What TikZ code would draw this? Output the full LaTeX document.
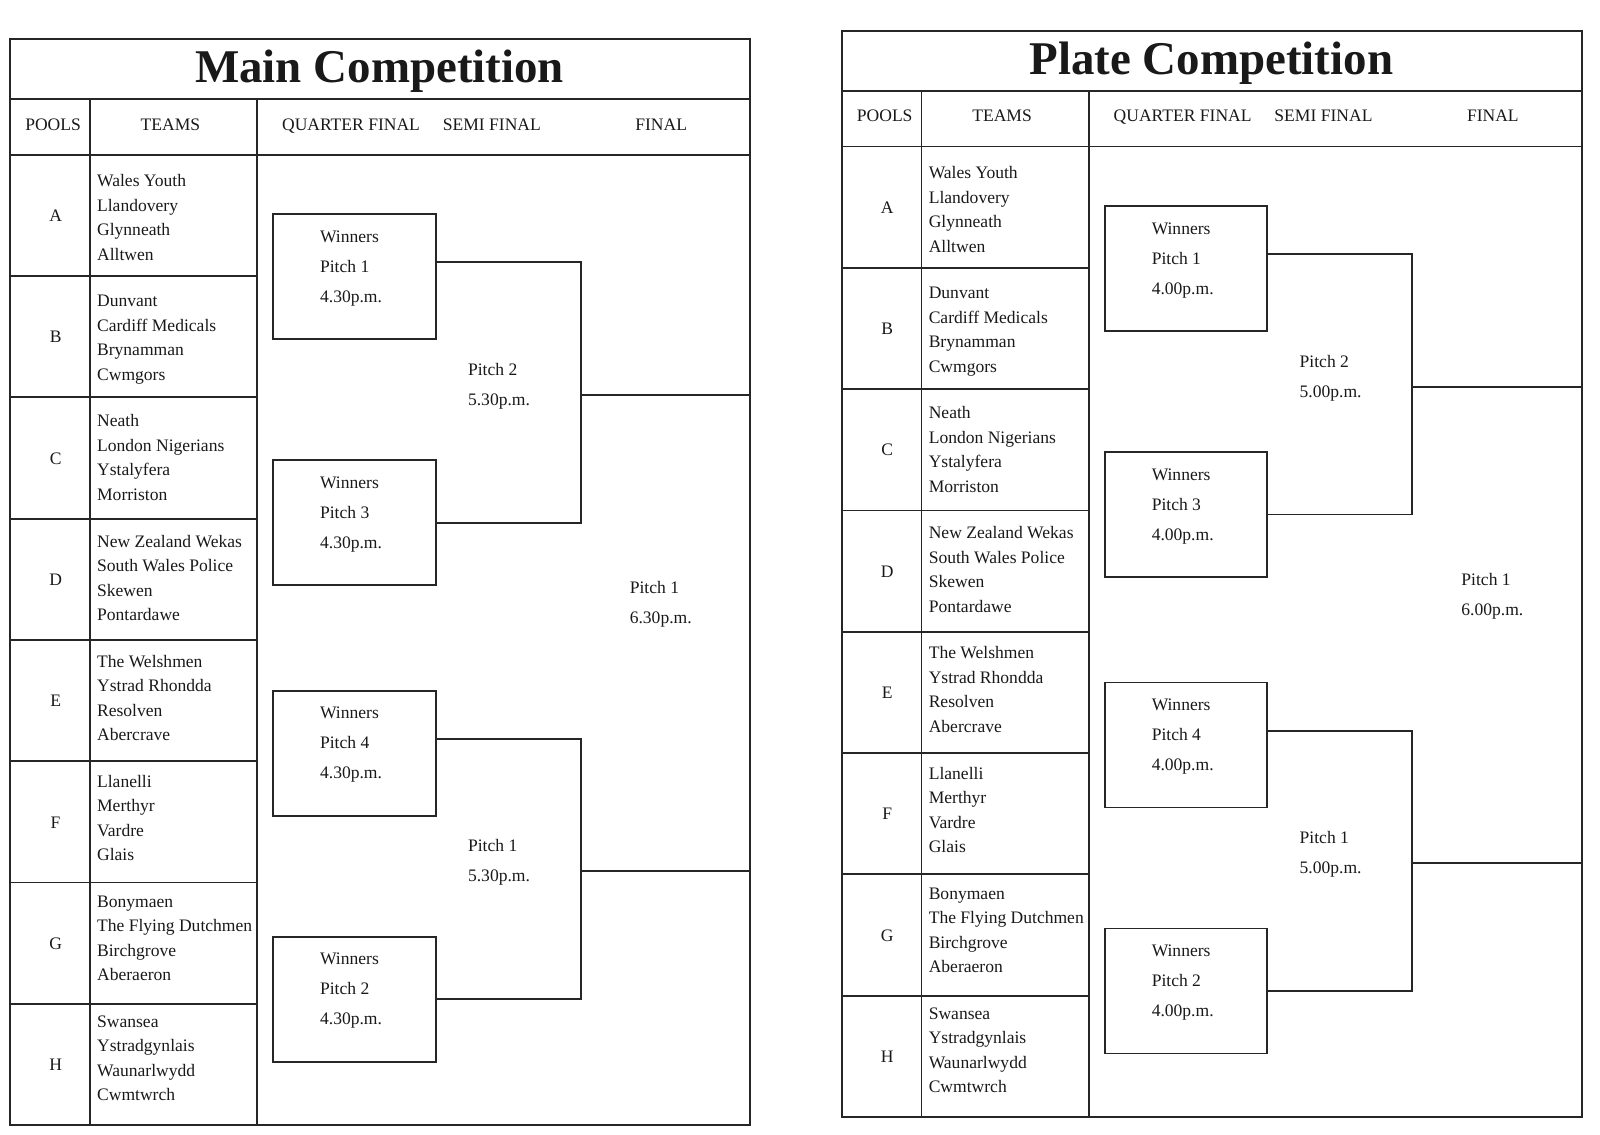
\documentclass[tikz,border=0pt]{standalone}
\usepackage{fontspec}
\setmainfont{Liberation Serif}
\usetikzlibrary{positioning}
\begin{document}
\begin{tikzpicture}[x=1pt,y=-1pt]
\def\rw{118.9}
\tikzset{l/.style={line width=1.8pt,draw=black!85},
b/.style={l,rectangle,minimum width=159pt,minimum height=122.5pt,inner sep=0pt},
t/.style={inner sep=0pt,align=left,text=black!90,font=\fontsize{17.2}{24}\selectfont},
w/.style={t,font=\fontsize{17.2}{29.4}\selectfont}}
\useasboundingbox(0,0)rectangle(1568,1112);
\foreach \cmp/\dx/\dy/\nm/\qt/\st/\ft in {M/0/0/Main/4.30/5.30/6.30,P/815/-8/Plate/4.00/5.00/6.00}{
\begin{scope}[shift={(\dx,\dy)}]
%%Table
\draw[l](10,38.5)rectangle(735,1102.5);
\draw[l](10,97)--(735,97)(10,151.5)--(735,151.5)(88,97)--(88,1102.5)(252,97)--(252,1102.5);
\foreach \k in {1,...,7}\draw[l](10,151.5+\k*\rw)--(252,151.5+\k*\rw);
\coordinate(\cmp R)at(735,0);
\node[anchor=base,inner sep=0pt,text=black!90,font=\fontsize{46}{50}\selectfont\bfseries](\cmp T)at(372,81){\nm\ Competition};
\foreach \x/\h [count=\j] in {52/POOLS,167/TEAMS,344/QUARTER FINAL,482/SEMI FINAL,648/FINAL}
\node[t,anchor=base](\cmp h\j)at(\x,127.5){\h};
%%Pools (base = last line)
\foreach \p/\tm [count=\k from 0] in {
A/{Wales Youth\\Llandovery\\Glynneath\\Alltwen},
B/{Dunvant\\Cardiff Medicals\\Brynamman\\Cwmgors},
C/{Neath\\London Nigerians\\Ystalyfera\\Morriston},
D/{New Zealand Wekas\\South Wales Police\\Skewen\\Pontardawe},
E/{The Welshmen\\Ystrad Rhondda\\Resolven\\Abercrave},
F/{Llanelli\\Merthyr\\Vardre\\Glais},
G/{Bonymaen\\The Flying Dutchmen\\Birchgrove\\Aberaeron},
H/{Swansea\\Ystradgynlais\\Waunarlwydd\\Cwmtwrch}}{
\node[t,anchor=base](\cmp p\p)at(54.5,151.5+\k*\rw+65.5){\p};
\node[t,anchor=base west](\cmp t\p)at(95,255+\k*117.7){\tm};}
%%Quarter finals
\foreach \i/\y/\n in {1/209/1,2/450/3,3/676/4,4/917/2}{
\node[b,anchor=north west](\cmp q\i)at(267,\y){};
\path(\cmp q\i.north west)++(46.5,87.3)node[w,anchor=base west](\cmp w\i){Winners\\Pitch \n\\\qt p.m.};}
%%Semi finals
\coordinate(\cmp s1)at(569,387);
\coordinate(\cmp s2)at(569,853.6);
\draw[l]([yshift=14pt]\cmp q1.east)-|(\cmp s1)|-(\cmp q2.east);
\draw[l]([yshift=14pt]\cmp q3.east)-|(\cmp s2)|-(\cmp q4.east);
\draw[l](\cmp s1)--(\cmp s1-|\cmp R)(\cmp s2)--(\cmp s2-|\cmp R);
\path(\cmp s1)++(-110.5,10.6)node[w,anchor=base west](\cmp m1){Pitch 2\\\st p.m.};
\path(\cmp s2)++(-110.5,10.6)node[w,anchor=base west](\cmp m2){Pitch 1\\\st p.m.};
%%Final
\node[w,anchor=base west](\cmp f)at(617,610.9){Pitch 1\\\ft p.m.};
\end{scope}}
\end{tikzpicture}
\end{document}
